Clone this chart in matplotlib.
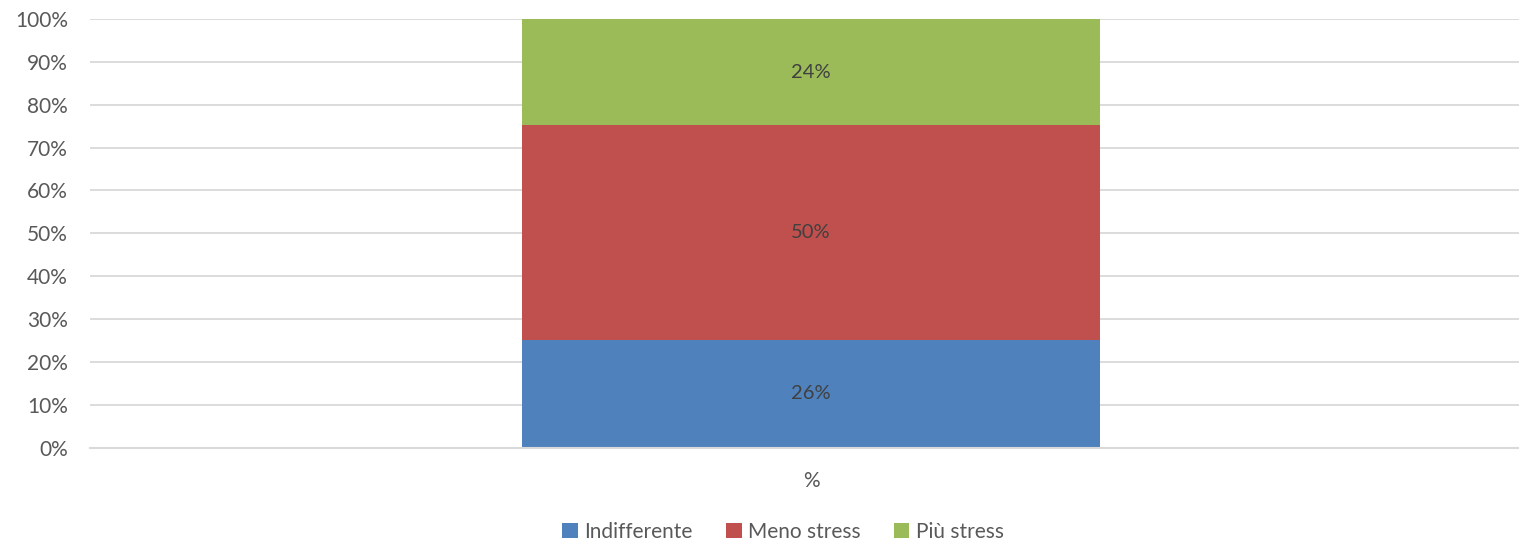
import numpy as np
import matplotlib.pyplot as plt

plt.rcParams['font.family'] = ['Lato', 'DejaVu Sans']

categories = ['%']
series = ['Indifferente', 'Meno stress', 'Più stress']
values = [25.0, 50.2, 24.8]
labels = ['26%', '50%', '24%']
colors = ['#4F81BD', '#C0504D', '#9BBB59']
yticks = np.arange(0, 101, 10)

W, H = 1519, 545
fig = plt.figure(figsize=(W / 100, H / 100), dpi=100)
ax = fig.add_axes([90 / W, 1 - 447.5 / H, 1442 / W, (447.5 - 19) / H])

x = np.arange(len(categories))
bottom = np.zeros(len(categories))
for name, v, lab, c in zip(series, values, labels, colors):
    ax.bar(x, [v], 0.401, bottom=bottom, color=c, label=name, zorder=2)
    ax.text(x[0], bottom[0] + v / 2, lab, ha='center', va='center',
            fontsize=14.5, color='#404040', zorder=3)
    bottom += v

ax.set_xlim(-0.5, 0.5)
ax.set_ylim(0, 100)
ax.set_yticks(yticks)
ax.set_yticklabels([f'{t}%' for t in yticks])
ax.set_xticks(x)
ax.set_xticklabels(categories)
ax.tick_params(axis='both', length=0, labelsize=15, labelcolor='#595959')
ax.tick_params(axis='y', pad=16)
ax.tick_params(axis='x', pad=17)
ax.grid(axis='y', color='#D9D9D9', linewidth=1.3, zorder=0)
for s in ['top', 'right', 'left']:
    ax.spines[s].set_visible(False)
ax.spines['bottom'].set_color('#D9D9D9')
ax.spines['bottom'].set_linewidth(1.5)

fig.legend(loc='center', bbox_to_anchor=(783 / W, 1 - 532 / H), ncol=3,
           frameon=False, fontsize=15, labelcolor='#595959',
           handlelength=0.75, handleheight=0.75, handletextpad=0.3,
           columnspacing=1.6)

fig.savefig('out.png', dpi=100)
